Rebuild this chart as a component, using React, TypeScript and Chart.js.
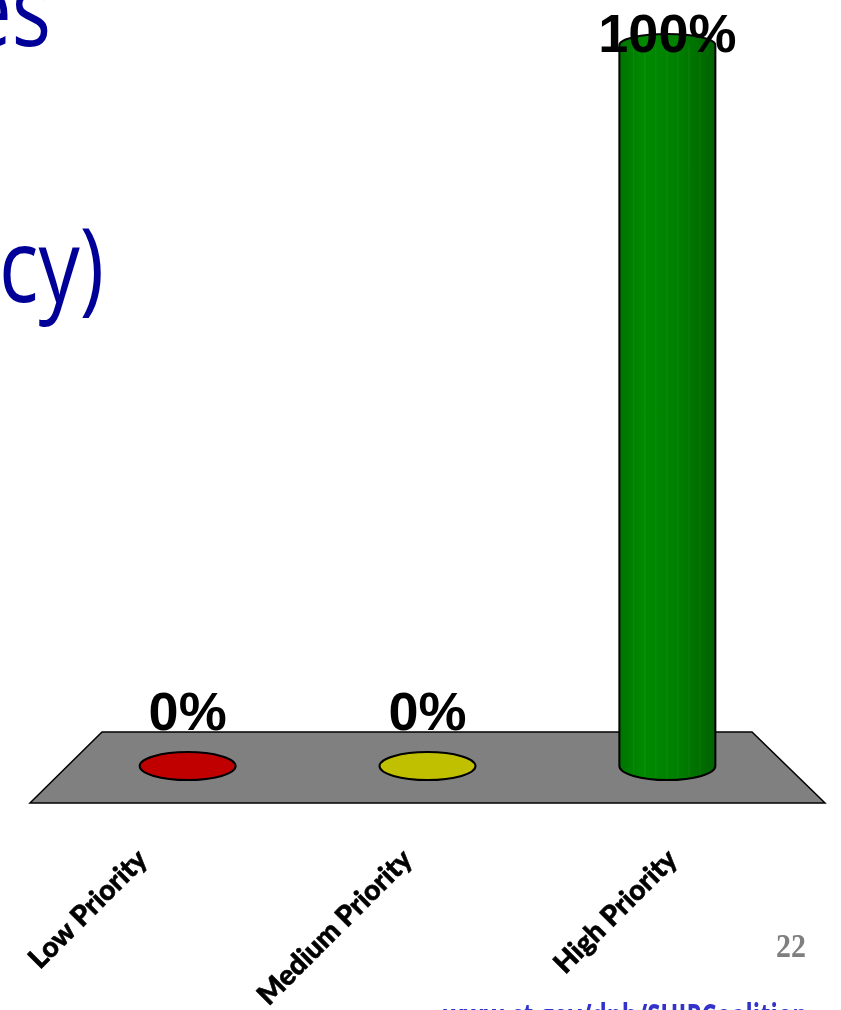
import React, { useEffect, useRef } from "react";
import { Chart, registerables } from "chart.js";

Chart.register(...registerables);

// ---- data ----
const categories = ["Low Priority", "Medium Priority", "High Priority"];
const percentValues = [0, 0, 100];
const barColors = ["#c00000", "#c0c000", "#008000"];
const valueRange = [0, 100];
const titleFragments = ["es", "cy)"];
const pageNumber = "22";
const footerUrl = "www.ct.gov/dph/SHIPCoalition";

// ---- 3D look (styles) ----
const FLOOR_DEPTH = 71;
const BACK_INSET_L = 72;
const BACK_INSET_R = 73;
const ROW_T = 0.48;
const BAR_RX = 48;
const BAR_RY = 14;
const TOP_RY = 11;

const threeD = {
  id: "threeD",
  beforeDatasetsDraw(chart: any) {
    const { ctx, chartArea } = chart;
    const front = chartArea.bottom;
    const back = front - FLOOR_DEPTH;
    ctx.save();
    ctx.beginPath();
    ctx.moveTo(chartArea.left, front);
    ctx.lineTo(chartArea.right, front);
    ctx.lineTo(chartArea.right - BACK_INSET_R, back);
    ctx.lineTo(chartArea.left + BACK_INSET_L, back);
    ctx.closePath();
    ctx.fillStyle = "#808080";
    ctx.fill();
    ctx.lineWidth = 1.5;
    ctx.strokeStyle = "#000";
    ctx.stroke();
    ctx.restore();
  },
  afterDatasetsDraw(chart: any) {
    const { ctx, chartArea } = chart;
    const xs = chart.scales.x;
    const ys = chart.scales.y;
    const front = chartArea.bottom;
    const back = front - FLOOR_DEPTH;
    const rowY = back + ROW_T * FLOOR_DEPTH;
    const frontW = chartArea.right - chartArea.left;
    const backW = frontW - BACK_INSET_L - BACK_INSET_R;
    const rowW = backW + ROW_T * (frontW - backW);
    const cx0 = (chartArea.left + chartArea.right) / 2;
    const k = rowW / frontW;
    const shift = front - rowY;
    const data = chart.data.datasets[0].data as number[];
    data.forEach((v: number, i: number) => {
      const tx = xs.getPixelForValue(i);
      const cx = cx0 + (tx - cx0) * k;
      const baseY = ys.getPixelForValue(0) - shift;
      const topY = ys.getPixelForValue(v) - shift;
      const color = barColors[i];
      ctx.save();
      ctx.lineWidth = 2;
      ctx.strokeStyle = "#000";
      if (baseY - topY < 1) {
        ctx.beginPath();
        ctx.ellipse(cx, baseY, BAR_RX, BAR_RY, 0, 0, Math.PI * 2);
        ctx.fillStyle = color;
        ctx.fill();
        ctx.stroke();
      } else {
        const g = ctx.createLinearGradient(cx - BAR_RX, 0, cx + BAR_RX, 0);
        g.addColorStop(0, "#007400");
        g.addColorStop(0.25, "#008a00");
        g.addColorStop(0.6, "#008000");
        g.addColorStop(1, "#006200");
        ctx.beginPath();
        ctx.moveTo(cx - BAR_RX, topY);
        ctx.lineTo(cx - BAR_RX, baseY);
        ctx.ellipse(cx, baseY, BAR_RX, BAR_RY, 0, Math.PI, 0, true);
        ctx.lineTo(cx + BAR_RX, topY);
        ctx.ellipse(cx, topY, BAR_RX, TOP_RY, 0, 0, Math.PI, true);
        ctx.closePath();
        ctx.fillStyle = g;
        ctx.fill();
        ctx.stroke();
        ctx.strokeStyle = "rgba(255,255,255,0.06)";
        ctx.lineWidth = 1;
        for (let f = -0.7; f <= 0.7; f += 0.23) {
          ctx.beginPath();
          ctx.moveTo(cx + f * BAR_RX, topY);
          ctx.lineTo(cx + f * BAR_RX, baseY + BAR_RY * Math.sqrt(1 - f * f) - 2);
          ctx.stroke();
        }
      }
      ctx.fillStyle = "#000";
      ctx.font = "bold 54px 'Liberation Sans', Arial, sans-serif";
      ctx.textAlign = "center";
      ctx.textBaseline = "alphabetic";
      const ly = Math.max(topY - 36, 52);
      ctx.fillText(v + "%", cx, ly);
      ctx.restore();
    });
  },
  afterDraw(chart: any) {
    const { ctx } = chart;
    ctx.save();
    ctx.fillStyle = "#000099";
    ctx.font = "103px 'Open Sans', sans-serif";
    ctx.textBaseline = "alphabetic";
    ctx.textAlign = "right";
    ctx.save();
    ctx.translate(51, 46);
    ctx.scale(0.8, 1);
    ctx.fillText(titleFragments[0], 0, 0);
    ctx.restore();
    ctx.save();
    ctx.translate(104, 302);
    ctx.scale(0.8, 1);
    ctx.fillText(titleFragments[1], 0, 0);
    ctx.restore();

    ctx.fillStyle = "#7f7f7f";
    ctx.font = "bold 34px 'Liberation Serif', 'Times New Roman', serif";
    ctx.textAlign = "right";
    ctx.save();
    ctx.translate(806, 957);
    ctx.scale(0.88, 1);
    ctx.fillText(pageNumber, 0, 0);
    ctx.restore();

    ctx.fillStyle = "#3333cc";
    ctx.font = "bold 34px 'Open Sans', sans-serif";
    ctx.textAlign = "left";
    const w = ctx.measureText(footerUrl).width;
    ctx.save();
    ctx.translate(443, 1028);
    ctx.scale(365 / w, 1);
    ctx.fillText(footerUrl, 0, 0);
    ctx.restore();
    ctx.restore();
  },
};

export default function App() {
  const ref = useRef<HTMLCanvasElement | null>(null);
  useEffect(() => {
    if (!ref.current) return;
    const chart = new Chart(ref.current, {
      type: "bar",
      data: {
        labels: categories,
        datasets: [
          {
            data: percentValues,
            backgroundColor: "rgba(0,0,0,0)",
            borderWidth: 0,
          },
        ],
      },
      options: {
        animation: false,
        responsive: false,
        devicePixelRatio: 1,
        layout: { padding: { top: 82, left: 30, right: 16, bottom: 0 } },
        plugins: { legend: { display: false }, tooltip: { enabled: false } },
        scales: {
          x: {
            type: "category",
            offset: true,
            grid: { display: false, drawTicks: false },
            border: { display: false },
            ticks: {
              minRotation: 45,
              maxRotation: 45,
              padding: 40,
              labelOffset: -20,
              color: "#000",
              textStrokeColor: "#000",
              textStrokeWidth: 0.6,
              font: { family: "Lato, 'Open Sans', sans-serif", weight: "900", size: 28 },
            },
            afterFit: (s: any) => {
              s.height = 207;
            },
          },
          y: {
            display: false,
            min: valueRange[0],
            max: valueRange[1],
          },
        },
      },
      plugins: [threeD],
    });
    return () => chart.destroy();
  }, []);
  return (
    <div style={{ position: "fixed", left: 0, top: 0, width: 841, height: 1010, background: "#fff", overflow: "hidden" }}>
      <canvas ref={ref} width={841} height={1010} style={{ display: "block" }} />
    </div>
  );
}
